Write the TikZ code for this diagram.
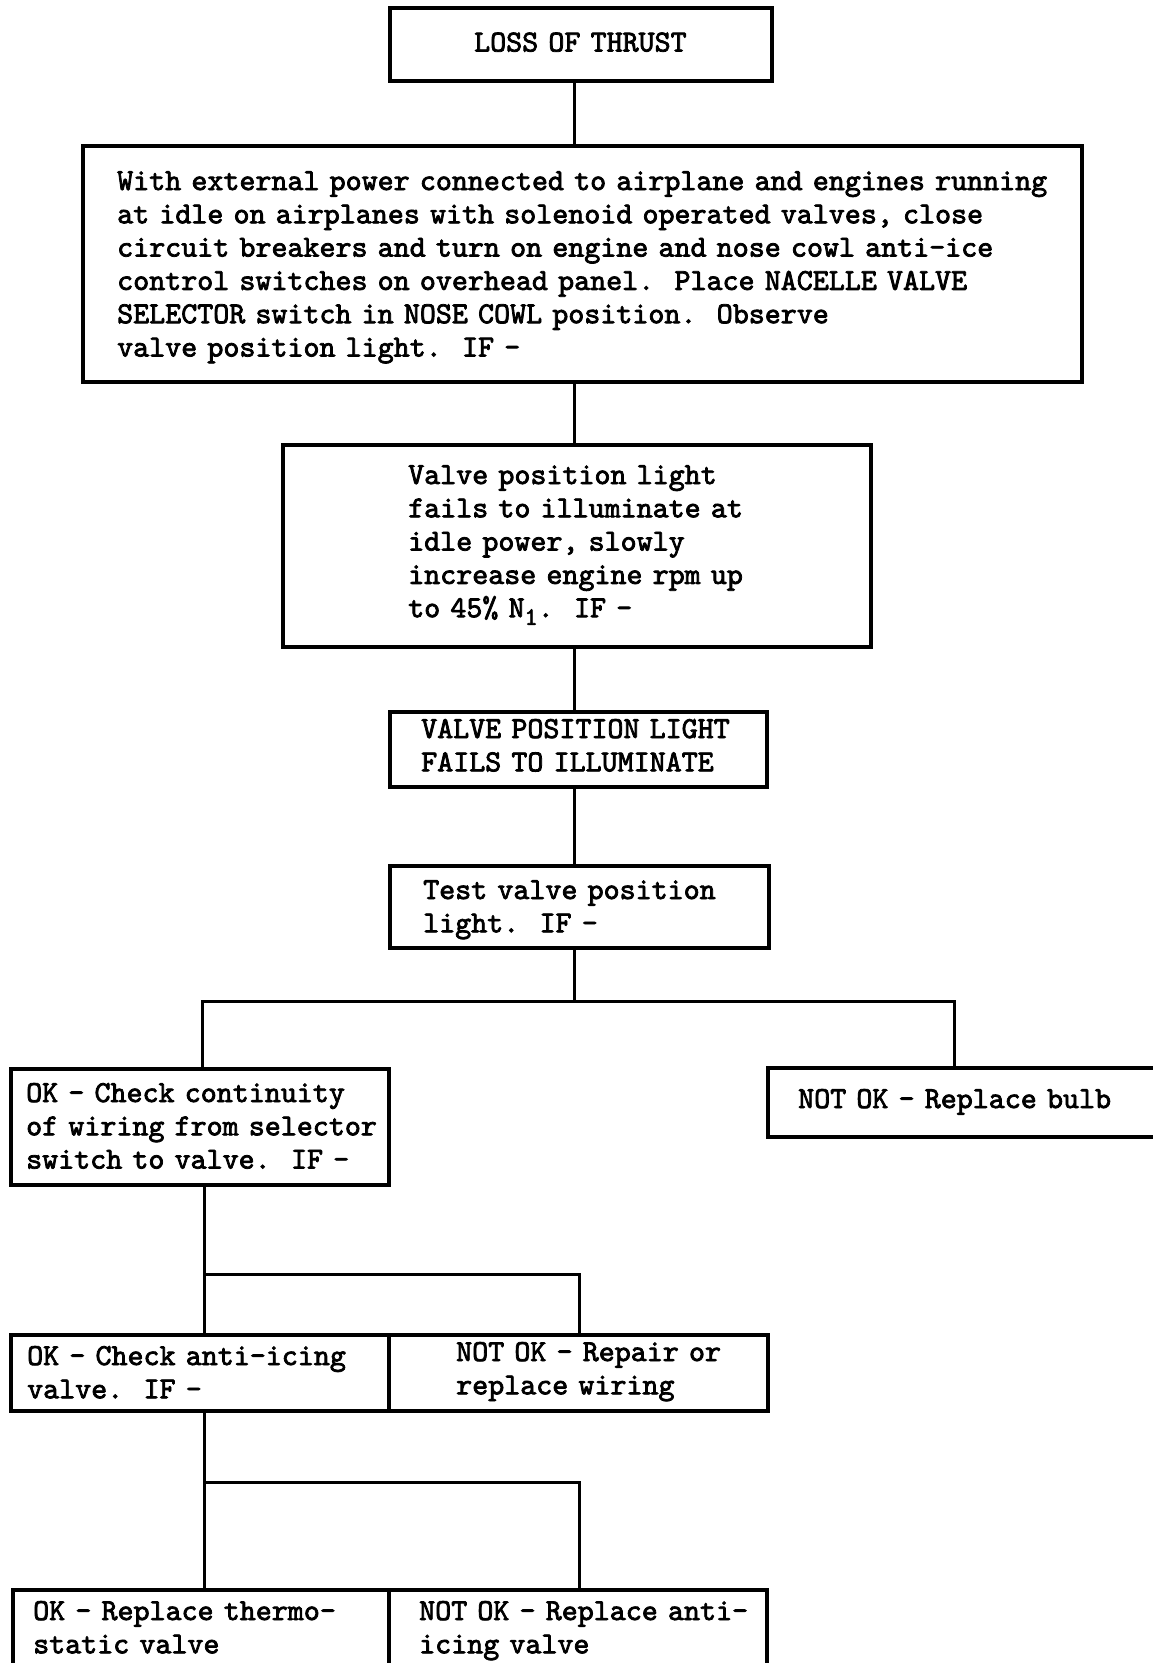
\documentclass[tikz,border=0pt]{standalone}
\usepackage{fontspec}
\newfontfamily\twfont{lmmono10-regular.otf}[FakeBold=2.5]
\tikzset{
  box/.style={draw=black, line width=3.6pt, rectangle, inner sep=0pt, anchor=north west},
  txt/.style={anchor=base west, inner sep=0pt, align=left, text width=#1,
    font=\fontsize{30.5}{33.3}\selectfont\twfont},
  txt/.default=360pt,
  conn/.style={line width=3pt, line cap=rect},
}
\begin{document}
\begin{tikzpicture}[x=1pt,y=-1pt]
\fill[white] (0,0) rectangle (1153,1663);
\useasboundingbox (0,0) rectangle (1153,1663);
\clip (0,0) rectangle (1153,1663);

% boxes
\node[box, minimum width=382pt, minimum height=73pt]  (A) at (388,6) {};
\node[box, minimum width=999pt, minimum height=236pt] (B) at (81,144) {};
\node[box, minimum width=588pt, minimum height=202pt] (C) at (281,443) {};
\node[box, minimum width=377pt, minimum height=75pt]  (D) at (388,710) {};
\node[box, minimum width=379pt, minimum height=82pt]  (E) at (388,864) {};
\node[box, minimum width=378pt, minimum height=116pt] (F) at (9,1067) {};
\node[box, minimum width=414pt, minimum height=69pt]  (G) at (766,1066) {};
\node[box, minimum width=378pt, minimum height=76pt]  (H) at (9,1333) {};
\node[box, minimum width=379pt, minimum height=76pt]  (I) at (387,1333) {};
\node[box, minimum width=376pt, minimum height=102pt] (J) at (11,1588) {};
\node[box, minimum width=378pt, minimum height=102pt] (K) at (387,1588) {};

% texts
\node[txt=260pt] (At) at (474,51.5) {LOSS OF THRUST};
\node[txt=990pt] (Bt) at (117,190) {With external power connected to airplane and engines running\\
at idle on airplanes with solenoid operated valves, close\\
circuit breakers and turn on engine and nose cowl anti-ice\\
control switches on overhead panel.\ \ Place NACELLE VALVE\\
SELECTOR switch in NOSE COWL position.\ \ Observe\\
valve position light.\ \ IF -};
\node[txt=375pt] (Ct) at (408,484) {Valve position light\\
fails to illuminate at\\
idle power, slowly\\
increase engine rpm up\\
to 45\% N\raisebox{-0.25em}{\fontsize{25}{25}\selectfont 1}.\ \ IF -};
\node[txt=345pt] (Dt) at (421,738) {VALVE POSITION LIGHT\\FAILS TO ILLUMINATE};
\node[txt=345pt] (Et) at (423,899) {Test valve position\\light.\ \ IF -};
\node[txt=380pt] (Ft) at (26,1102) {OK - Check continuity\\of wiring from selector\\switch to valve.\ \ IF -};
\node[txt=360pt] (Gt) at (798,1108) {NOT OK - Replace bulb};
\node[txt=360pt] (Ht) at (27,1365) {OK - Check anti-icing\\valve.\ \ IF -};
\node[txt=315pt] (It) at (456,1361) {NOT OK - Repair or\\replace wiring};
\node[txt=345pt] (Jt) at (33,1620) {OK - Replace thermo-\\static valve};
\node[txt=375pt] (Kt) at (419,1620) {NOT OK - Replace anti-\\icing valve};

% connectors
\coordinate (xm) at (574,0);
\coordinate (j1) at (574,1001);
\coordinate (j1L) at (202,1001);
\coordinate (j1R) at (954,1001);
\coordinate (j2L) at (204,1274);
\coordinate (j2R) at (579,1274);
\coordinate (j3L) at (204,1482);
\coordinate (j3R) at (579,1482);

\draw[conn] (A.south -| xm) -- (B.north -| xm);
\draw[conn] (B.south -| xm) -- (C.north -| xm);
\draw[conn] (C.south -| xm) -- (D.north -| xm);
\draw[conn] (D.south -| xm) -- (E.north -| xm);
\draw[conn] (E.south -| xm) -- (j1);
\draw[conn] (F.north -| j1L) -- (j1L) -- (j1R) -- (G.north -| j1R);
\draw[conn] (F.south -| j2L) -- (H.north -| j2L);
\draw[conn] (j2L) -- (j2R) -- (I.north -| j2R);
\draw[conn] (H.south -| j3L) -- (J.north -| j3L);
\draw[conn] (j3L) -- (j3R) -- (K.north -| j3R);
\end{tikzpicture}
\end{document}
